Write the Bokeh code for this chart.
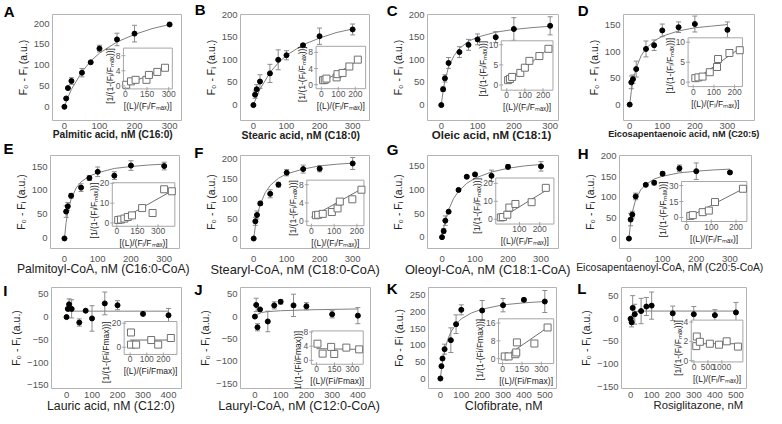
import math
from bokeh.plotting import figure
from bokeh.layouts import column, row
from bokeh.models import Range1d, LinearAxis, FixedTicker, Whisker, TeeHead, ColumnDataSource
from bokeh.core.properties import value
from bokeh.embed import file_html
from bokeh.resources import INLINE

FONT = "Liberation Sans"

# ------------------------------------------------------------------ data
conc10 = [0, 5, 10, 20, 50, 75, 100, 150, 200, 300]
conc_il = [0, 5, 10, 20, 50, 75, 100, 150, 200, 300, 400]
conc_kl = [0, 5, 10, 20, 50, 75, 100, 200, 300, 400, 500]

a_y = [0, 20, 45, 62, 82, 107, 140, 162, 176, 198]
a_e = [0, 0, 0, 8, 10, 0, 8, 15, 20, 3]
a_fit_x = [0, 10, 20, 50, 75, 100, 150, 200, 250, 300]
a_fit_y = [0, 23, 42, 84, 110, 129, 156, 174, 188, 198]
a_in_x = [6, 39, 71, 146, 163, 221, 274]
a_in_y = [0.3, 1.2, 1.6, 1.6, 2.9, 3.7, 4.8]
a_inl_x = [0, 290]
a_inl_y = [0.2, 4.9]

b_y = [0, 23, 35, 52, 70, 100, 110, 132, 152, 167]
b_e = [0, 8, 10, 15, 20, 22, 10, 4, 18, 12]
b_fit_x = [0, 10, 20, 50, 75, 100, 150, 200, 250, 300]
b_fit_y = [0, 19, 35, 72, 93, 110, 133, 148, 160, 168]
b_in_x = [10, 20, 30, 90, 95, 125, 165, 215]
b_in_y = [1.1, 1.2, 1.5, 1.8, 2.6, 2.9, 4.5, 6.2]
b_inl_x = [0, 230]
b_inl_y = [0.5, 6.3]

c_y = [0, 35, 59, 93, 117, 133, 145, 150, 168, 175]
c_e = [0, 5, 8, 12, 12, 12, 12, 12, 25, 20]
c_fit_x = [0, 5, 10, 20, 35, 50, 75, 100, 150, 200, 250, 300]
c_fit_y = [0, 31, 54, 84, 109, 125, 141, 150, 161, 167, 171, 174]
c_in_x = [8, 18, 30, 75, 100, 125, 180, 230]
c_in_y = [1.2, 1.5, 2.0, 3.0, 4.3, 6.0, 7.2, 9.0]
c_inl_x = [0, 240]
c_inl_y = [0.6, 9.4]

d_y = [0, 42, 48, 67, 105, 112, 140, 146, 152, 141]
d_e = [0, 12, 8, 15, 15, 10, 12, 10, 15, 15]
d_fit_x = [0, 5, 10, 20, 35, 50, 75, 100, 150, 200, 250, 300]
d_fit_y = [0, 25, 43, 69, 92, 106, 120, 129, 139, 145, 148, 151]
d_in_x = [10, 25, 45, 80, 115, 120, 175, 225]
d_in_y = [1.0, 1.2, 1.4, 2.5, 3.8, 5.8, 7.3, 8.0]
d_inl_x = [0, 220]
d_inl_y = [0.3, 8.3]

e_y = [0, 56, 67, 89, 106, 126, 139, 131, 152, 151]
e_e = [0, 12, 8, 5, 8, 5, 10, 8, 10, 8]
e_fit_x = [0, 5, 10, 20, 35, 50, 75, 100, 150, 200, 250, 300]
e_fit_y = [0, 33, 55, 82, 105, 118, 130, 137, 146, 150, 153, 155]
e_in_x = [10, 30, 55, 80, 110, 184, 260, 344, 400]
e_in_y = [1.5, 1.7, 2.2, 3.0, 3.8, 7.5, 5.0, 17.0, 16.0]
e_inl_x = [0, 400]
e_inl_y = [0.5, 16.2]

f_y = [0, 43, 59, 88, 112, 135, 165, 174, 175, 188]
f_e = [0, 10, 10, 5, 10, 6, 8, 10, 8, 15]
f_fit_x = [0, 5, 10, 20, 35, 50, 75, 100, 150, 200, 250, 300]
f_fit_y = [0, 31, 55, 86, 115, 133, 151, 162, 174, 182, 186, 189]
f_in_x = [20, 30, 50, 90, 115, 125, 180, 220]
f_in_y = [1.3, 1.4, 1.6, 2.0, 2.8, 4.3, 4.8, 6.9]
f_inl_x = [0, 225]
f_inl_y = [0.9, 7.2]

g_y = [0, 13, 35, 54, 100, 128, 133, 130, 149, 150]
g_e = [0, 5, 10, 3, 3, 3, 3, 12, 5, 10]
g_fit_x = [0, 5, 10, 20, 35, 50, 75, 100, 150, 200, 250, 300]
g_fit_y = [0, 19, 35, 58, 82, 97, 114, 125, 138, 146, 151, 154]
g_in_x = [8, 18, 40, 50, 80, 160, 230]
g_in_y = [1.0, 1.2, 2.5, 6.5, 8.5, 9.5, 17.5]
g_inl_x = [0, 235]
g_inl_y = [0.0, 16.3]

h_y = [0, 46, 58, 102, 130, 135, 157, 170, 163, 160]
h_e = [0, 15, 8, 8, 3, 5, 5, 8, 20, 3]
h_fit_x = [0, 5, 10, 20, 35, 50, 75, 100, 150, 200, 250, 300]
h_fit_y = [0, 39, 64, 94, 118, 131, 144, 151, 159, 163, 166, 168]
h_in_x = [15, 25, 65, 90, 115, 228]
h_in_y = [1.5, 2.2, 5.0, 6.5, 14.5, 27.0]
h_inl_x = [5, 225]
h_inl_y = [0.0, 26.5]

i_y = [0, 18, 28, 18, -12, 14, -3, 30, 26, 7, 4]
i_e = [0, 0, 12, 20, 8, 0, 28, 25, 10, 0, 15]
i_fit_x = [5, 400]
i_fit_y = [13, 13]
i_in_x = [5, 5, 36, 127, 169, 245]
i_in_y = [12.3, 2.2, 2.2, 6.0, 2.2, 7.7]
i_inl_x = [0, 250]
i_inl_y = [6.0, 6.0]

j_y = [0, 26, -24, 16, -11, 25, 33, 25, 23, 5, 2]
j_e = [0, 15, 8, 0, 23, 8, 5, 25, 8, 8, 18]
j_fit_x = [0, 10, 25, 50, 100, 200, 300, 400]
j_fit_y = [0, 5, 9, 11, 13, 15, 16, 17]
j_in_x = [8, 51, 122, 148, 249, 356]
j_in_y = [4.7, 1.9, 3.8, 1.8, 3.6, 3.1]
j_inl_x = [0, 360]
j_inl_y = [3.3, 3.1]

k_y = [0, 37, 60, 88, 115, 163, 206, 204, 220, 236, 231]
k_e = [0, 0, 0, 15, 37, 28, 15, 30, 20, 5, 33]
k_fit_x = [0, 5, 10, 20, 35, 50, 75, 100, 150, 200, 300, 400, 500]
k_fit_y = [0, 28, 50, 83, 117, 139, 163, 179, 197, 208, 221, 227, 231]
k_in_x = [17, 47, 99, 106, 111, 246, 348]
k_in_y = [1.0, 1.0, 2.0, 2.8, 7.3, 6.8, 14.0]
k_inl_x = [0, 348]
k_inl_y = [0.0, 14.0]

l_y = [0, -8, 24, 10, 17, 27, 29, 12, 10, 8, 14]
l_e = [0, 10, 27, 22, 28, 20, 30, 16, 17, 12, 22]
l_fit_x = [0, 10, 20, 50, 100, 500]
l_fit_y = [0, 12, 16, 17, 17, 17]
l_in_x = [80, 100, 210, 570, 900, 1175, 1580]
l_in_y = [1.5, 2.5, 1.95, 1.75, 1.65, 2.0, 1.45]
l_inl_x = [0, 1600]
l_inl_y = [1.75, 1.75]

titles = {
    "A": "Palmitic acid, nM (C16:0)",
    "B": "Stearic acid, nM (C18:0)",
    "C": "Oleic acid, nM (C18:1)",
    "D": "Eicosapentaenoic acid, nM (C20:5)",
    "E": "Palmitoyl-CoA, nM (C16:0-CoA)",
    "F": "Stearyl-CoA, nM (C18:0-CoA)",
    "G": "Oleoyl-CoA, nM (C18:1-CoA)",
    "H": "Eicosapentaenoyl-CoA, nM (C20:5-CoA)",
    "I": "Lauric acid, nM (C12:0)",
    "J": "Lauryl-CoA, nM (C12:0-CoA)",
    "K": "Clofibrate, nM",
    "L": "Rosiglitazone, nM",
}
ylab_main = "F\u2080 - F\u1d62 (a.u.)"
ylab_main_k = "Fo - Fi (a.u.)"
ylab_in = "[1/(1-(F\u1d62/F\u2098\u2090\u2093))]"
xlab_in = "[(L)/(F\u1d62/F\u2098\u2090\u2093)]"
ylab_in_plain = "[1/(1-(Fi/Fmax))]"
xlab_in_plain = "[(L)/(Fi/Fmax)]"

ticks_y_200 = [0, 50, 100, 150, 200]
ticks_y_150 = [0, 50, 100, 150]
ticks_y_neg = [-150, -100, -50, 0, 50]
ticks_y_250 = [0, 50, 100, 150, 200, 250]
ticks_x_300 = [0, 100, 200, 300]
ticks_x_400 = [0, 100, 200, 300, 400]
ticks_x_500 = [0, 100, 200, 300, 400, 500]

data = {
    "A": (conc10, a_y, a_e, a_fit_x, a_fit_y, a_in_x, a_in_y, a_inl_x, a_inl_y, ticks_x_300, ticks_y_200, [0, 150, 300], [0, 4, 8]),
    "B": (conc10, b_y, b_e, b_fit_x, b_fit_y, b_in_x, b_in_y, b_inl_x, b_inl_y, ticks_x_300, ticks_y_200, [0, 100, 200], [0, 4, 8]),
    "C": (conc10, c_y, c_e, c_fit_x, c_fit_y, c_in_x, c_in_y, c_inl_x, c_inl_y, ticks_x_300, ticks_y_200, [0, 100, 200], [0, 5, 10]),
    "D": (conc10, d_y, d_e, d_fit_x, d_fit_y, d_in_x, d_in_y, d_inl_x, d_inl_y, ticks_x_300, ticks_y_150, [0, 100, 200], [0, 5, 10]),
    "E": (conc10, e_y, e_e, e_fit_x, e_fit_y, e_in_x, e_in_y, e_inl_x, e_inl_y, ticks_x_300, ticks_y_150, [0, 150, 300], [0, 10, 20]),
    "F": (conc10, f_y, f_e, f_fit_x, f_fit_y, f_in_x, f_in_y, f_inl_x, f_inl_y, ticks_x_300, ticks_y_200, [0, 100, 200], [0, 4, 8]),
    "G": (conc10, g_y, g_e, g_fit_x, g_fit_y, g_in_x, g_in_y, g_inl_x, g_inl_y, ticks_x_300, ticks_y_150, [100, 200], [0, 10, 20]),
    "H": (conc10, h_y, h_e, h_fit_x, h_fit_y, h_in_x, h_in_y, h_inl_x, h_inl_y, ticks_x_300, ticks_y_200, [0, 100, 200], [0, 15, 30]),
    "I": (conc_il, i_y, i_e, i_fit_x, i_fit_y, i_in_x, i_in_y, i_inl_x, i_inl_y, ticks_x_400, ticks_y_neg, [0, 100, 200], [0, 20]),
    "J": (conc_il, j_y, j_e, j_fit_x, j_fit_y, j_in_x, j_in_y, j_inl_x, j_inl_y, ticks_x_400, ticks_y_neg, [0, 150, 300], [0, 4, 8]),
    "K": (conc_kl, k_y, k_e, k_fit_x, k_fit_y, k_in_x, k_in_y, k_inl_x, k_inl_y, ticks_x_500, ticks_y_250, [0, 150, 300], [0, 8, 16]),
    "L": (conc_kl, l_y, l_e, l_fit_x, l_fit_y, l_in_x, l_in_y, l_inl_x, l_inl_y, ticks_x_500, ticks_y_neg, [0, 500, 1000], [0, 2, 4]),
}

# ------------------------------------------------------------------ layout / style
# border=(left, right, top); box = inset in frame fractions; ib = inset data bounds
# ld = letter centre above frame top (px); tc = title centre (px from figure left); ts = title size
cfg = {
    "A": dict(width=191, border=(44, 10, 10), xr=(-34, 334), yr=(-33, 222), box=(0.55, 0.929, 0.298, 0.683), ib=(-13, 325, -0.8, 10), ts=10.2, bold=True, ld=2.3, tc=108),
    "B": dict(width=192, border=(41, 14, 12), xr=(-39, 351), yr=(-34, 200), box=(0.586, 0.97, 0.30, 0.70), ib=(-31, 261, -1, 9.5), ts=10.5, bold=True, ld=4.3, tc=105),
    "C": dict(width=191, border=(36, 16, 11), xr=(-38, 323), yr=(-34, 200), box=(0.563, 0.958, 0.286, 0.752), ib=(-30, 255, -1.3, 11), ts=11.5, bold=True, ld=3.3, tc=104),
    "D": dict(width=192, border=(41, 12, 14), xr=(-19, 383), yr=(-30, 170), box=(0.493, 0.908, 0.32, 0.78), ib=(-25, 238, -1.1, 11.1), ts=9.2, bold=True, ld=6.3, tc=105),
    "E": dict(width=191, border=(42, 12, 19), xr=(-42, 346), yr=(-21, 173), box=(0.479, 0.964, 0.239, 0.707), ib=(-33, 422, -1.7, 20.3), ts=12.2, bold=False, ld=6.4, tc=102),
    "F": dict(width=192, border=(41, 14, 15), xr=(-40, 351), yr=(-25, 208), box=(0.514, 0.957, 0.245, 0.735), ib=(-20, 231, -1.0, 9.0), ts=12.8, bold=False, ld=2.4, tc=99),
    "G": dict(width=191, border=(36, 16, 18), xr=(-44, 353), yr=(-24, 173), box=(0.521, 0.965, 0.263, 0.758), ib=(-17, 270, -2.7, 23), ts=12.8, bold=False, ld=5.4, tc=100),
    "H": dict(width=192, border=(37, 15, 13), xr=(-28, 364), yr=(-24, 201), box=(0.469, 0.965, 0.29, 0.72), ib=(-21, 244, -3.8, 33.8), ts=10.4, bold=False, ld=0.4, tc=97),
    "I": dict(width=191, border=(41, 10, 13), xr=(-59, 451), yr=(-157, 65), box=(0.559, 0.965, 0.337, 0.663), ib=(-36, 282, -6, 21.4), ts=12.3, bold=False, ld=-2.6, tc=105),
    "J": dict(width=192, border=(39, 13, 14), xr=(-56, 449), yr=(-161, 65), box=(0.545, 0.944, 0.24, 0.57), ib=(-43, 390, -1.1, 8.3), ts=12.6, bold=False, ld=-1.6, tc=102),
    "K": dict(width=191, border=(37, 18, 15), xr=(-57, 556), yr=(-30, 273), box=(0.547, 0.978, 0.247, 0.69), ib=(-31, 395, -2.2, 17.9), ts=12.5, bold=False, ld=-0.6, tc=117),
    "L": dict(width=192, border=(37, 20, 15), xr=(-43, 550), yr=(-154, 69), box=(0.558, 0.971, 0.263, 0.677), ib=(-100, 1758, -0.14, 4.2), ts=11.3, bold=False, ld=-0.6, tc=120),
}
ROW_H = 136          # vertical pitch of each row
OVERLAP = 7          # each figure reaches this far into the (transparent) top border of the next row
# (tick-label standoff, title standoff) per row
row_standoffs = {"ABCD": (2, -3), "EFGH": (7, -3), "IJKL": (3, -2)}
letter_w = dict(A=.722, B=.722, C=.722, D=.722, E=.667, F=.611, G=.778, H=.722, I=.278, J=.556, K=.722, L=.611)
LETTER_PX = 15
TICK_PX = 9.5
INSET_PX = 8.5

FRAME = "#b4b4b4"
TICKC = "#555555"
TEXTC = "#222222"
CURVE = "#808080"


def outer(lo, hi, f0, f1):
    span = (hi - lo) / (f1 - f0)
    return lo - f0 * span, lo - f0 * span + span


def label_width(s, px):
    return sum(0.333 if ch == "-" else 0.556 for ch in s) * px


def style_axis(ax, size, standoff):
    ax.axis_line_color = None
    ax.major_tick_line_color = None
    ax.minor_tick_line_color = None
    ax.major_tick_out = 0
    ax.major_tick_in = 0
    ax.minor_tick_out = 0
    ax.minor_tick_in = 0
    ax.major_label_text_font = FONT
    ax.major_label_text_font_size = size
    ax.major_label_text_color = TICKC
    ax.major_label_standoff = standoff
    ax.axis_label_text_font = FONT
    ax.axis_label_text_color = TEXTC
    ax.axis_label_standoff = 2


def make_panel(letter):
    x, y, e, fx, fy, inx, iny, ilx, ily, xt, yt, ixt, iyt = data[letter]
    c = cfg[letter]
    W = c["width"]
    H = ROW_H + OVERLAP
    L, R, T = c["border"]
    fw, fh = W - L - R, H - T - 38
    tick_so, title_so = [v for k, v in row_standoffs.items() if letter in k][0]
    p = figure(width=W, height=H, output_backend="svg", toolbar_location=None,
               x_range=Range1d(*c["xr"]), y_range=Range1d(*c["yr"]),
               min_border_left=L, min_border_right=R, min_border_top=T, min_border_bottom=0,
               margin=(0, 0, -OVERLAP, 0))
    p.grid.visible = False
    p.outline_line_color = FRAME
    p.border_fill_color = None
    p.background_fill_color = "white"

    xa = p.below[0]
    ya = p.left[0]
    style_axis(xa, f"{TICK_PX}px", tick_so)
    style_axis(ya, f"{TICK_PX}px", 3)
    xa.ticker = FixedTicker(ticks=xt)
    ya.ticker = FixedTicker(ticks=yt)
    ya.axis_label = ylab_main_k if letter == "K" else ylab_main
    ya.axis_label_text_font_size = "10.5px"
    ya.axis_label_text_font_style = "normal"

    # main fit curve
    p.line(fx, fy, line_color=CURVE, line_width=1)
    # error bars
    bx = [xi for xi, ei in zip(x, e) if ei > 0]
    lo = [yi - ei for yi, ei in zip(y, e) if ei > 0]
    hi = [yi + ei for yi, ei in zip(y, e) if ei > 0]
    src = ColumnDataSource(dict(base=bx, lower=lo, upper=hi))
    p.add_layout(Whisker(base="base", lower="lower", upper="upper", source=src,
                         line_color="#8c8c8c", line_width=1,
                         upper_head=TeeHead(size=5, line_color="#8c8c8c", line_width=1),
                         lower_head=TeeHead(size=5, line_color="#8c8c8c", line_width=1)))
    p.scatter(x, y, marker="circle", size=5, fill_color="black", line_color="black")

    # inset (drawn on its own pair of ranges that map into a sub-box of the frame)
    ix0, ix1, iy0, iy1 = c["ib"]
    fx0, fx1, fy0, fy1 = c["box"]
    p.extra_x_ranges = {"ix": Range1d(*outer(ix0, ix1, fx0, fx1)), "tx": Range1d(0, 1000)}
    p.extra_y_ranges = {"iy": Range1d(*outer(iy0, iy1, fy0, fy1)), "lt": Range1d(0, 1000)}
    ir = dict(x_range_name="ix", y_range_name="iy")
    p.quad(left=[ix0], right=[ix1], bottom=[iy0], top=[iy1], fill_color="white",
           line_color="#a6a6a6", line_width=1, **ir)
    p.line(ilx, ily, line_color="#6e6e6e", line_width=1, **ir)
    p.scatter(inx, iny, marker="square", size=7, fill_color="white", line_color="#707070",
              line_width=1, **ir)
    # inset ticks and tick labels
    p.scatter(ixt, [iy0] * len(ixt), marker="dash", angle=math.pi / 2, size=4,
              line_color="#a6a6a6", **ir)
    p.scatter([ix0] * len(iyt), iyt, marker="dash", size=4, line_color="#a6a6a6", **ir)
    p.text(x=ixt, y=[iy0] * len(ixt), text=[str(t) for t in ixt], text_font=value(FONT),
           text_font_size=f"{INSET_PX}px", text_color=TICKC, text_align="center",
           text_baseline="top", y_offset=2, **ir)
    p.text(x=[ix0] * len(iyt), y=iyt, text=[str(t) for t in iyt], text_font=value(FONT),
           text_font_size=f"{INSET_PX}px", text_color=TICKC, text_align="right",
           text_baseline="middle", x_offset=-3, **ir)
    ytw = max(label_width(str(t), INSET_PX) for t in iyt)

    plain = letter in ("I", "J", "K")
    p.text(x=[ix0], y=[iy1], text=[ylab_in_plain if plain else ylab_in], angle=math.pi / 2,
           text_font=value(FONT), text_font_size=f"{INSET_PX}px", text_color=TEXTC,
           text_align="right", text_baseline="bottom", x_offset=-(ytw + 4), **ir)
    p.text(x=[(ix0 + ix1) / 2], y=[iy0], text=[xlab_in_plain if plain else xlab_in],
           text_font=value(FONT), text_font_size=f"{INSET_PX}px", text_color=TEXTC,
           text_align="center", text_baseline="top", y_offset=12, **ir)

    # x-axis title, placed as a single labelled tick on an axis below the main one
    tpos = int(round(1000 * (c["tc"] - L) / fw))
    ta = LinearAxis(x_range_name="tx", ticker=FixedTicker(ticks=[tpos]),
                    major_label_overrides={tpos: titles[letter]})
    style_axis(ta, f"{c['ts']}px", title_so)
    ta.major_label_text_color = TEXTC
    ta.major_label_text_font_style = "bold" if c["bold"] else "normal"
    p.add_layout(ta, "below")

    # panel letter, as a labelled tick on an outer left axis
    tick_w = max(label_width(str(t), TICK_PX) for t in yt)
    main_size = 3 + tick_w + 2 + 12
    w = letter_w[letter] * LETTER_PX
    s = int(round(max(L - main_size - 1 - w, -w)))
    if c["ld"] > 0:
        shift = 0.5 * 1.2 * LETTER_PX
        lpos = int(round(1000 - 1000 * (shift - c["ld"]) / fh))
        ltext = letter + "\n "
    else:
        lpos = int(round(1000 + 1000 * c["ld"] / fh))
        ltext = letter
    la = LinearAxis(y_range_name="lt", ticker=FixedTicker(ticks=[lpos]),
                    major_label_overrides={lpos: ltext})
    style_axis(la, f"{LETTER_PX}px", s)
    la.major_label_text_color = "black"
    la.major_label_text_font_style = "bold"
    la.major_label_text_line_height = 1.2
    p.add_layout(la, "left")
    return p


panels = {k: make_panel(k) for k in "ABCDEFGHIJKL"}
layout = column(
    row(panels["A"], panels["B"], panels["C"], panels["D"]),
    row(panels["E"], panels["F"], panels["G"], panels["H"]),
    row(panels["I"], panels["J"], panels["K"], panels["L"]),
)

open("out.html", "w").write(file_html(layout, INLINE))
